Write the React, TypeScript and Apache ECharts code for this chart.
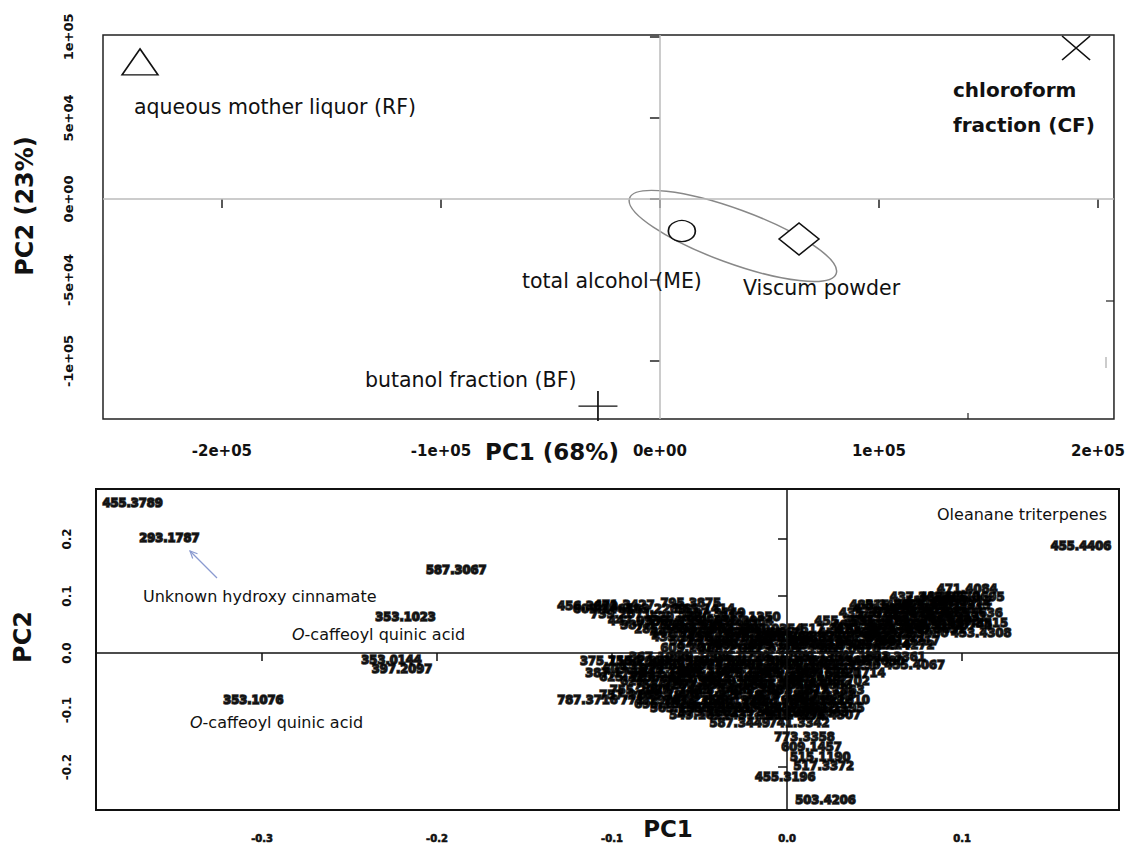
import React, { useEffect, useRef } from "react";
import * as echarts from "echarts";

// ---------- Scores (top panel) ----------
const scoreNames = ["aqueous mother liquor (RF)", "chloroform fraction (CF)", "total alcohol (ME)", "Viscum powder", "butanol fraction (BF)"];
const scorePC1 = [-237400, 190000, 10000, 63500, -28300];
const scorePC2 = [84600, 93200, -19800, -24700, -127800];
const groupEllipseCenter = [33300, -22800];

const pc1Ticks = [-200000, -100000, 0, 100000, 200000];
const pc1TickLabels = ["-2e+05", "-1e+05", "0e+00", "1e+05", "2e+05"];
const pc2Ticks = [-100000, -50000, 0, 50000, 100000];
const pc2TickLabels = ["-1e+05", "-5e+04", "0e+00", "5e+04", "1e+05"];

// ---------- Loadings (bottom panel) ----------
const loadingMz = [
  "455.3789", "293.1787", "587.3067", "353.1023", "353.0144", "397.2097", "353.1076", "455.4406", "375.1164", "787.3716",
  "453.4308", "455.4067", "471.4084", "455.3196", "503.4206", "773.3358", "609.1457", "515.1190", "517.3372", "587.3449",
  "741.3342",
  "456.3600", "471.3427", "795.3875", "587.3149", "387.1771", "593.1506", "623.1981", "447.0927", "463.0877", "625.1406",
  "577.1346", "739.2086", "551.1369", "327.2171", "609.2817", "405.2135", "917.4215", "771.1987", "355.0670",
  "469.3325", "485.3274", "439.4272", "501.3212", "473.3626", "487.3421", "517.3183", "471.3478", "483.3147", "499.3631",
  "455.3531", "501.3580", "513.3742", "457.3685", "467.3515", "435.3787", "529.3528", "469.3683", "487.3636", "515.3826",
  "453.3781", "497.3915", "437.3428", "439.3570", "485.3695",
  "367.1036", "379.1605", "335.0776", "515.1195", "529.1351", "547.1813", "501.3361",
  "191.0556", "353.0877", "337.0928", "367.1031", "499.1452", "433.2230",
  "611.1618", "465.1027", "479.0819", "449.1084", "431.1920", "579.1714",
  "625.1770", "285.0399", "301.0352", "593.1295", "447.1506", "421.1702",
  "755.2037", "609.1463", "563.1406", "739.2087", "593.1512", "577.1563",
  "771.1993", "741.2250", "623.1979", "461.1664", "475.1821", "489.1610",
  "565.1556", "725.1931", "695.1824", "417.1402", "491.1195",
  "431.1919", "901.4278", "885.4307",
  "387.1760", "549.1611", "529.2880", "739.2071", "517.1350", "431.1547", "865.4061", "483.3480",
  "609.1461", "483.2269", "563.1414", "447.0933", "577.1352", "739.2090", "431.0984", "285.0404", "593.1300", "461.1080",
  "301.0354", "433.1138", "417.1187", "625.1773", "465.1033", "547.1450", "449.1089", "579.1710", "289.0718",
  "755.2040", "337.0929", "191.0561", "515.1200", "353.0880", "529.1346", "367.1030",
  "609.1825", "771.2000", "463.1240", "595.1664", "741.2241", "479.1777",
  "625.2136", "787.2625", "463.0882", "611.1612", "593.1859", "447.1287",
  "753.2250", "577.1561", "433.1866", "565.1554", "403.1606",
  "757.2187", "609.1820", "449.1445", "725.1928", "579.1350", "417.1399",
  "695.1820", "533.1666", "401.1445", "549.1609", "387.1655",
  "575.1562", "431.1924", "385.1866", "567.2043",
  "485.3268", "501.3217", "455.3526", "469.3329", "471.3480", "487.3425", "517.3180", "453.3372", "513.3745",
  "499.3635", "437.3424", "529.3531", "435.3790", "439.3573", "457.3681", "515.3830", "497.3912"
];
const loadingPC1 = [
  -0.374, -0.353, -0.189, -0.218, -0.226, -0.220, -0.305, 0.168, -0.101, -0.114,
  0.111, 0.073, 0.103, -0.001, 0.022, 0.010, 0.014, 0.019, 0.021, -0.027,
  0.007,
  -0.114, -0.093, -0.055, -0.041, -0.078, -0.055, -0.033, -0.061, -0.038, -0.018,
  -0.050, -0.027, -0.004, 0.019, -0.055, -0.033, -0.010, 0.013, 0.036,
  0.030, 0.053, 0.067, 0.019, 0.042, 0.062, 0.025, 0.045, 0.065, 0.085,
  0.033, 0.053, 0.073, 0.093, 0.109, 0.047, 0.067, 0.087, 0.106, 0.062,
  0.082, 0.099, 0.076, 0.093, 0.107,
  -0.073, -0.050, -0.027, -0.004, 0.019, 0.042, 0.062,
  -0.078, -0.055, -0.033, -0.010, 0.013, 0.036,
  -0.067, -0.044, -0.021, 0.002, 0.025, 0.039,
  -0.078, -0.055, -0.033, -0.010, 0.013, 0.030,
  -0.084, -0.061, -0.038, -0.015, 0.007, 0.027,
  -0.078, -0.053, -0.030, -0.007, 0.016, 0.030,
  -0.061, -0.038, -0.013, 0.010, 0.027,
  -0.015, 0.005, 0.025,
  -0.098, -0.050, -0.061, -0.095, -0.021, -0.010, 0.007, 0.053,
  -0.105, -0.075, -0.047, -0.085, -0.063, -0.045, -0.025, -0.070, -0.048, -0.027,
  -0.008, -0.060, -0.040, -0.018, 0.000, -0.045, -0.025, -0.005, 0.015,
  -0.085, -0.062, -0.040, -0.017, 0.006, 0.030, 0.050,
  -0.088, -0.066, -0.045, -0.022, 0.000, 0.022,
  -0.090, -0.072, -0.050, -0.028, -0.005, 0.018,
  -0.070, -0.048, -0.025, -0.003, 0.020,
  -0.090, -0.068, -0.045, -0.022, 0.000, 0.022,
  -0.070, -0.048, -0.025, -0.002, 0.020,
  -0.045, -0.027, 0.000, 0.018,
  0.045, 0.070, 0.035, 0.055, 0.075, 0.043, 0.063, 0.083, 0.100,
  0.057, 0.077, 0.097, 0.055, 0.075, 0.095, 0.085, 0.100
];
const loadingPC2 = [
  0.263, 0.202, 0.146, 0.063, -0.012, -0.028, -0.082, 0.188, -0.014, -0.082,
  0.035, -0.021, 0.112, -0.218, -0.258, -0.147, -0.165, -0.182, -0.198, -0.123,
  -0.123,
  0.082, 0.084, 0.088, 0.070, 0.049, 0.049, 0.049, 0.035, 0.035, 0.035,
  0.021, 0.021, 0.021, 0.021, 0.009, 0.007, 0.007, 0.007, 0.007,
  0.014, 0.014, 0.014, 0.028, 0.028, 0.028, 0.042, 0.042, 0.042, 0.042,
  0.056, 0.056, 0.056, 0.056, 0.053, 0.070, 0.070, 0.070, 0.070, 0.084,
  0.084, 0.084, 0.098, 0.098, 0.098,
  -0.007, -0.007, -0.007, -0.007, -0.007, -0.007, -0.007,
  -0.021, -0.021, -0.021, -0.021, -0.021, -0.021,
  -0.035, -0.035, -0.035, -0.035, -0.035, -0.035,
  -0.049, -0.049, -0.049, -0.049, -0.049, -0.049,
  -0.065, -0.065, -0.065, -0.065, -0.065, -0.065,
  -0.082, -0.082, -0.082, -0.082, -0.082, -0.082,
  -0.096, -0.096, -0.096, -0.096, -0.096,
  -0.109, -0.109, -0.109,
  -0.035, -0.109, 0.063, 0.068, 0.063, 0.035, 0.028, 0.084,
  0.077, 0.077, 0.077, 0.056, 0.056, 0.056, 0.056, 0.042, 0.042, 0.042,
  0.042, 0.028, 0.028, 0.028, 0.028, 0.014, 0.014, 0.014, 0.014,
  -0.014, -0.014, -0.014, -0.014, -0.014, -0.014, -0.014,
  -0.028, -0.028, -0.028, -0.028, -0.028, -0.028,
  -0.042, -0.042, -0.042, -0.042, -0.042, -0.042,
  -0.057, -0.057, -0.057, -0.057, -0.057,
  -0.073, -0.073, -0.073, -0.073, -0.073, -0.073,
  -0.089, -0.089, -0.089, -0.089, -0.089,
  -0.103, -0.103, -0.103, -0.103,
  0.021, 0.021, 0.035, 0.035, 0.035, 0.049, 0.049, 0.049, 0.049,
  0.063, 0.063, 0.063, 0.077, 0.077, 0.077, 0.091, 0.091
];

const loadX = [-0.3, -0.2, -0.1, 0, 0.1];
const loadXLabels = ["-0.3", "-0.2", "-0.1", "0.0", "0.1"];
const loadY = [-0.2, -0.1, 0, 0.1, 0.2];
const loadYLabels = ["-0.2", "-0.1", "0.0", "0.1", "0.2"];

// ---------- styles ----------
const FONT = "DejaVu Sans";
const scoreSymbols = [
  "triangle",
  "path://M0,0L28,24M28,0L0,24",
  "circle",
  "diamond",
  "path://M0,15L40,15M20,0L20,30",
];
const scoreSymbolSizes: any[] = [[36, 26], [28, 24], [27, 21], [40, 32], [39, 30]];

const lookup = (ticks: number[], labels: string[], tol: number) => (v: number) => {
  const i = ticks.findIndex((t) => Math.abs(t - v) < tol);
  return i >= 0 ? labels[i] : "";
};

function buildOption() {
  const scoreData = scoreNames.map((n, i) => ({
    name: n,
    value: [scorePC1[i], scorePC2[i]],
    symbol: scoreSymbols[i],
    symbolSize: scoreSymbolSizes[i],
  }));
  const loadData = loadingMz.map((m, i) => [loadingPC1[i], loadingPC2[i], m]);
  return {
    animation: false,
    backgroundColor: "#fff",
    textStyle: { fontFamily: FONT },
    grid: [
      { left: 103, top: 35, width: 1011, height: 384, show: true, borderColor: "#222", borderWidth: 1.5, backgroundColor: "transparent" },
      { left: 96, top: 489, width: 1023, height: 321, show: true, borderColor: "#111", borderWidth: 2, backgroundColor: "transparent" },
    ],
    xAxis: [
      {
        gridIndex: 0, type: "value", min: -254300, max: 207300,
        axisLine: { show: false }, splitLine: { show: false },
        axisTick: { show: true, length: 9, customValues: pc1Ticks, lineStyle: { color: "#222", width: 1.5 } },
        axisLabel: { customValues: pc1Ticks, formatter: lookup(pc1Ticks, pc1TickLabels, 1), margin: 24, fontSize: 15, fontWeight: "bold", color: "#111", fontFamily: FONT },
      },
      {
        gridIndex: 1, type: "value", min: -0.3949, max: 0.1897,
        axisLine: { show: false }, splitLine: { show: false },
        axisTick: { show: true, length: 8, customValues: loadX, lineStyle: { color: "#111", width: 1.5 } },
        axisLabel: { customValues: loadX, formatter: lookup(loadX, loadXLabels, 1e-6), margin: 23, fontSize: 10, fontWeight: "bold", color: "#111", fontFamily: FONT, textBorderColor: "#111", textBorderWidth: 0.6 },
      },
    ],
    yAxis: [
      {
        gridIndex: 0, type: "value", min: -135800, max: 101200,
        axisLine: { show: false }, splitLine: { show: false },
        axisTick: { show: true, length: 10, customValues: pc2Ticks, lineStyle: { color: "#222", width: 1.5 } },
        axisLabel: { customValues: pc2Ticks, formatter: lookup(pc2Ticks, pc2TickLabels, 1), rotate: 90, margin: 28, fontSize: 13, fontWeight: "bold", color: "#111", fontFamily: FONT },
      },
      {
        gridIndex: 1, type: "value", min: -0.2754, max: 0.2877,
        axisLine: { show: false }, splitLine: { show: false },
        axisTick: { show: true, length: 9, customValues: loadY, lineStyle: { color: "#111", width: 1.5 } },
        axisLabel: { customValues: loadY, formatter: lookup(loadY, loadYLabels, 1e-6), rotate: 90, margin: 23, fontSize: 12, fontWeight: "bold", color: "#111", fontFamily: FONT },
      },
    ],
    series: [
      {
        type: "scatter", xAxisIndex: 0, yAxisIndex: 0, data: scoreData, silent: true,
        itemStyle: { color: "#fff", borderColor: "#111", borderWidth: 1.5, opacity: 1 },
        markLine: {
          silent: true, symbol: "none", label: { show: false },
          lineStyle: { color: "#bbb", width: 1.5, type: "solid" },
          data: [{ xAxis: 0 }, { yAxis: 0 }],
        },
        z: 5,
      },
      {
        type: "scatter", xAxisIndex: 1, yAxisIndex: 1, data: loadData, silent: true,
        symbolSize: 0,
        itemStyle: { color: "transparent" },
        label: {
          show: true, position: "inside", formatter: (p: any) => p.data[2],
          fontSize: 11.5, fontWeight: "bold", color: "#000", fontFamily: FONT,
          textBorderColor: "#000", textBorderWidth: 1.6,
        },
        markLine: {
          silent: true, symbol: "none", label: { show: false },
          lineStyle: { color: "#111", width: 1.5, type: "solid" },
          data: [{ xAxis: 0 }, { yAxis: 0 }],
        },
      },
    ],
  };
}

function txt(text: string, x: number, y: number, size: number, bold = false, extra: any = {}) {
  return {
    type: "text", x, y, silent: true, z: 10,
    style: {
      text, fontSize: size, fontWeight: bold ? "bold" : "normal", fontFamily: FONT, fill: "#111",
      align: "left", verticalAlign: "middle", ...(extra.style || {}),
    },
    ...(extra.el || {}),
  };
}

function buildGraphics(center: number[]) {
  const rich = { i: { fontStyle: "italic", fontSize: 16, fontFamily: FONT, fill: "#111" } };
  return [
    // ellipse around ME + Viscum powder
    {
      type: "ellipse", x: center[0], y: center[1], rotation: -0.35, silent: true, z: 4,
      shape: { cx: 0, cy: 0, rx: 110, ry: 27 },
      style: { fill: "none", stroke: "#888", lineWidth: 1.5 },
    },
    txt("aqueous mother liquor (RF)", 134, 107, 20.5),
    txt("chloroform\nfraction (CF)", 953, 107, 20, true, { style: { lineHeight: 35 } }),
    txt("total alcohol (ME)", 522, 281, 20.5),
    txt("Viscum powder", 743, 288, 20.5),
    txt("butanol fraction (BF)", 365, 380, 20.5),
    txt("PC2 (23%)", 25, 206, 24, true, { style: { align: "center" }, el: { rotation: Math.PI / 2 } }),
    txt("PC1 (68%)", 552, 452, 23, true, { style: { align: "center" } }),
    txt("PC2", 23, 637, 24, true, { style: { align: "center" }, el: { rotation: Math.PI / 2 } }),
    txt("PC1", 668, 829, 23, true, { style: { align: "center" } }),
    txt("Unknown hydroxy cinnamate", 143, 596, 16),
    txt("{i|O}-caffeoyl quinic acid", 292, 634, 16, false, { style: { rich } }),
    txt("{i|O}-caffeoyl quinic acid", 190, 722, 16, false, { style: { rich } }),
    txt("Oleanane triterpenes", 937, 514, 16),
    // arrow
    { type: "line", silent: true, shape: { x1: 217, y1: 578, x2: 190, y2: 551 }, style: { stroke: "#8a9ad0", lineWidth: 1.2 } },
    { type: "polyline", silent: true, shape: { points: [[192.7, 558.5], [190, 551], [197.5, 553.7]] }, style: { stroke: "#8a9ad0", lineWidth: 1.2, fill: "none" } },
    // stray marks in the top frame
    { type: "line", silent: true, shape: { x1: 1106, y1: 301, x2: 1114, y2: 301 }, style: { stroke: "#222", lineWidth: 1.2 } },
    { type: "line", silent: true, shape: { x1: 1106, y1: 357, x2: 1106, y2: 368 }, style: { stroke: "#aaa", lineWidth: 1.2 } },
    { type: "line", silent: true, shape: { x1: 968, y1: 413, x2: 968, y2: 419 }, style: { stroke: "#222", lineWidth: 1.2 } },
  ];
}

export default function App() {
  const ref = useRef<HTMLDivElement>(null);
  useEffect(() => {
    if (!ref.current) return;
    const chart = echarts.init(ref.current, null, { renderer: "svg" });
    chart.setOption(buildOption() as any);
    const c = chart.convertToPixel({ gridIndex: 0 } as any, groupEllipseCenter) as number[];
    chart.setOption({ graphic: buildGraphics(c) } as any);
    return () => chart.dispose();
  }, []);
  return <div ref={ref} style={{ position: "absolute", left: 0, top: 0, width: 1128, height: 844, background: "#fff" }} />;
}
